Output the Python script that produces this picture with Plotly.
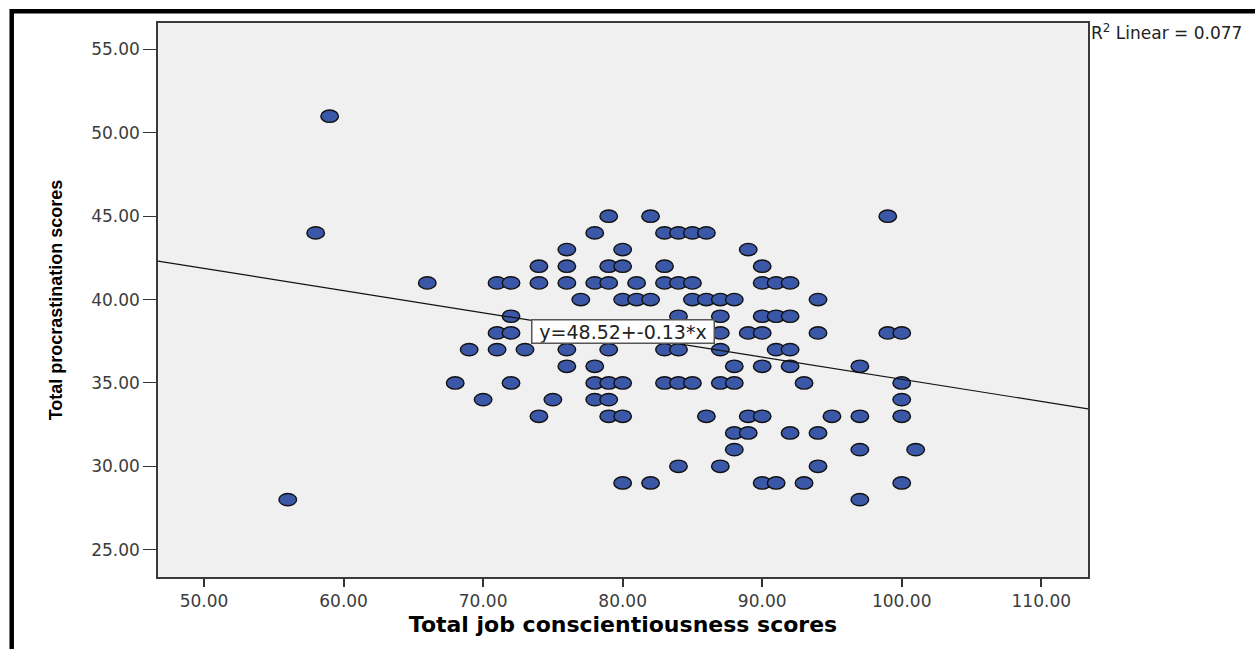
import numpy as np
import plotly.graph_objects as go

# Total job conscientiousness (x) and total procrastination (y) per respondent
job_conscientiousness = [
    56, 58, 59, 66, 68, 69, 70,
    71, 71, 71,
    72, 72, 72, 72,
    73,
    74, 74, 74,
    75,
    76, 76, 76, 76, 76,
    77,
    78, 78, 78, 78, 78,
    79, 79, 79, 79, 79, 79, 79,
    80, 80, 80, 80, 80, 80,
    81, 81,
    82, 82, 82,
    83, 83, 83, 83, 83,
    84, 84, 84, 84, 84, 84,
    85, 85, 85, 85,
    86, 86, 86,
    87, 87, 87, 87, 87, 87,
    88, 88, 88, 88, 88,
    89, 89, 89, 89,
    90, 90, 90, 90, 90, 90, 90,
    91, 91, 91, 91,
    92, 92, 92, 92, 92,
    93, 93,
    94, 94, 94, 94,
    95,
    97, 97, 97, 97,
    99, 99,
    100, 100, 100, 100, 100,
    101,
]
procrastination = [
    28, 44, 51, 41, 35, 37, 34,
    41, 38, 37,
    41, 39, 38, 35,
    37,
    42, 41, 33,
    34,
    43, 42, 41, 37, 36,
    40,
    44, 41, 36, 35, 34,
    45, 42, 41, 37, 35, 34, 33,
    43, 42, 40, 35, 33, 29,
    41, 40,
    45, 40, 29,
    44, 42, 41, 37, 35,
    44, 41, 39, 37, 35, 30,
    44, 41, 40, 35,
    44, 40, 33,
    40, 39, 38, 37, 35, 30,
    40, 36, 35, 32, 31,
    43, 38, 33, 32,
    42, 41, 39, 38, 36, 33, 29,
    41, 39, 37, 29,
    41, 39, 37, 36, 32,
    35, 29,
    40, 38, 32, 30,
    33,
    36, 33, 31, 28,
    45, 38,
    38, 35, 34, 33, 29,
    31,
]

# Fit line and its summary
INTERCEPT = 48.52
SLOPE = -0.133
R_SQUARED = 0.077

# Axes
X_RANGE = [46.70, 113.35]
Y_RANGE = [23.36, 56.59]
X_TICKS = [50, 60, 70, 80, 90, 100, 110]
Y_TICKS = [25, 30, 35, 40, 45, 50, 55]

X_TITLE = "Total job conscientiousness scores"
Y_TITLE = "Total procrastination scores"

POINT_FILL = "#3B57A8"
POINT_EDGE = "#111111"
HALF_W = 0.63   # marker half-width in x units
HALF_H = 0.37   # marker half-height in y units

fig = go.Figure()

# Scatter trace carries the data (hover); the visible markers are ellipses below
fig.add_trace(go.Scatter(
    x=job_conscientiousness, y=procrastination, mode="markers",
    marker=dict(size=14, color="rgba(0,0,0,0)"),
    hovertemplate="x=%{x}<br>y=%{y}<extra></extra>",
    showlegend=False,
))

# Linear fit across the full x range
x_line = np.array(X_RANGE)
y_line = INTERCEPT + SLOPE * x_line
fig.add_trace(go.Scatter(
    x=x_line, y=y_line, mode="lines",
    line=dict(color="#111111", width=1.2),
    hoverinfo="skip", showlegend=False,
))

shapes = []
for xv, yv in zip(job_conscientiousness, procrastination):
    shapes.append(dict(
        type="circle", xref="x", yref="y", layer="below",
        x0=xv - HALF_W, x1=xv + HALF_W, y0=yv - HALF_H, y1=yv + HALF_H,
        fillcolor=POINT_FILL, line=dict(color=POINT_EDGE, width=1.4),
    ))

# Heavy outer frame (left and top edges visible)
shapes.append(dict(
    type="rect", xref="paper", yref="paper", layer="above",
    x0=-0.1573, x1=1.19, y0=-0.17, y1=1.0211,
    line=dict(color="black", width=4.5), fillcolor="rgba(0,0,0,0)",
))

tick_font = dict(family="DejaVu Sans", size=17, color="#3c3c3c")

annotations = [
    dict(
        x=80, y=38.1, xref="x", yref="y",
        text=f"y={INTERCEPT:.2f}+{SLOPE:.2f}*x",
        showarrow=False, bgcolor="white", bordercolor="#555555", borderwidth=1.5,
        width=181, height=22, borderpad=0,
        font=dict(family="DejaVu Sans", size=19, color="#222222"),
    ),
    dict(
        x=1.001, y=0.984, xref="paper", yref="paper", xanchor="left", yanchor="middle",
        text=f"R<sup>2</sup> Linear = {R_SQUARED:.3f}",
        showarrow=False, font=dict(family="DejaVu Sans", size=17, color="#222222"),
    ),
]

fig.update_layout(
    width=1255, height=649,
    margin=dict(l=158, r=167, t=23, b=72, pad=0),
    paper_bgcolor="white", plot_bgcolor="#F0F0F0",
    shapes=shapes, annotations=annotations,
    xaxis=dict(
        range=X_RANGE, tickvals=X_TICKS, tickformat=".2f",
        ticks="outside", ticklen=8, tickwidth=2, tickcolor="#333333",
        showline=True, linecolor="#3a3a3a", linewidth=1.5, mirror=True,
        showgrid=False, zeroline=False, tickfont=tick_font,
        title=dict(text=X_TITLE, standoff=6,
                   font=dict(family="DejaVu Sans", size=22, color="black", weight="bold")),
    ),
    yaxis=dict(
        range=Y_RANGE, tickvals=Y_TICKS, tickformat=".2f",
        ticks="outside", ticklen=13, tickwidth=1, tickcolor="#333333",
        showline=True, linecolor="#3a3a3a", linewidth=1.5, mirror=True,
        showgrid=False, zeroline=False, tickfont=tick_font,
        title=dict(text=Y_TITLE, standoff=24,
                   font=dict(family="Liberation Sans", size=18, color="black", weight="bold")),
    ),
)

fig.write_html("out.html")
